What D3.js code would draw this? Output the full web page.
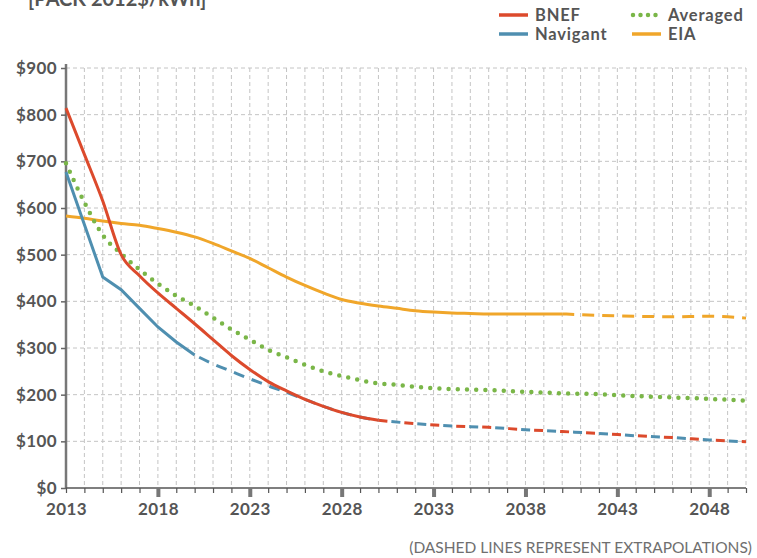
<!DOCTYPE html>
<html>
<head>
<meta charset="utf-8">
<script src="https://cdn.jsdelivr.net/npm/d3@7"></script>
<style>
  html, body { margin: 0; padding: 0; background: #fff; }
  svg { display: block; font-family: Lato, "Open Sans", sans-serif; }
</style>
</head>
<body>
<div id="chart"></div>
<script>
// Battery pack cost outlook, $/kWh by year
const years = d3.range(2013, 2051);
const yTicks = [0, 100, 200, 300, 400, 500, 600, 700, 800, 900];
const xLabelYears = [2013, 2018, 2023, 2028, 2033, 2038, 2043, 2048];

// BNEF: published projection, then extrapolated
const bnefYears = [2013, 2014, 2015, 2016, 2017, 2018, 2019, 2020, 2021, 2022, 2023, 2024, 2025, 2026, 2027, 2028, 2029, 2030];
const bnefValues = [814, 715, 615, 500, 455, 418, 385, 352, 318, 284, 254, 228, 208, 190, 175, 162, 152, 145];
const bnefExtYears = [2030, 2032, 2034, 2036, 2038, 2040, 2042, 2044, 2046, 2048, 2050];
const bnefExtValues = [145, 138, 133, 130, 125, 121, 117, 112, 108, 103, 99];

// Navigant: published projection, then extrapolated (joins the BNEF extrapolation from 2030)
const navYears = [2013, 2015, 2016, 2017, 2018, 2019, 2020];
const navValues = [677, 452, 425, 385, 345, 313, 285];
const navExtYears = [2020, 2021, 2022, 2023, 2024, 2025, 2026, 2027, 2028, 2029, 2030];
const navExtValues = [285, 266, 250, 234, 219, 205, 190, 175, 162, 152, 145];
const navLateYears = [2030, 2032, 2034, 2036, 2038, 2040, 2042, 2044, 2046, 2048, 2050];
const navLateValues = [145, 138, 133, 130, 125, 121, 117, 112, 108, 103, 99];

// EIA: published projection, then extrapolated
const eiaYears = [2013, 2014, 2015, 2016, 2017, 2018, 2019, 2020, 2021, 2022, 2023, 2024, 2025, 2026, 2027, 2028, 2029, 2030, 2031, 2032, 2033, 2034, 2035, 2036, 2038, 2040];
const eiaValues = [583, 578, 572, 567, 563, 556, 548, 538, 524, 508, 492, 472, 452, 434, 418, 404, 396, 390, 385, 380, 377, 375, 374, 373, 373, 373];
const eiaExtYears = [2040, 2042, 2044, 2046, 2048, 2050];
const eiaExtValues = [373, 370, 368, 367, 368, 364];

// Average of the sources
const avgYears = [2013, 2014, 2015, 2016, 2017, 2018, 2019, 2020, 2021, 2022, 2023, 2024, 2025, 2026, 2027, 2028, 2029, 2030, 2031, 2032, 2034, 2036, 2038, 2040, 2042, 2044, 2046, 2048, 2050];
const avgValues = [696, 612, 542, 502, 468, 438, 412, 390, 365, 340, 318, 296, 280, 264, 250, 240, 231, 224, 221, 217, 212, 210, 206, 203, 201, 197, 194, 191, 187];

const legendItems = [
  { name: "BNEF", color: "#dc4a2c", kind: "solid", col: 0, row: 0 },
  { name: "Navigant", color: "#4f8fb0", kind: "solid", col: 0, row: 1 },
  { name: "Averaged", color: "#7ab648", kind: "dot", col: 1, row: 0 },
  { name: "EIA", color: "#f0a62a", kind: "solid", col: 1, row: 1 }
];

const W = 757, H = 558;
const margin = { top: 68, right: 11, bottom: 70, left: 66 };
const textColor = "#555";

const svg = d3.select("#chart").append("svg").attr("width", W).attr("height", H);

const x = d3.scaleLinear().domain([2013, 2050]).range([margin.left, W - margin.right]);
const y = d3.scaleLinear().domain([0, 900]).range([H - margin.bottom, margin.top]);

// Unit label, clipped at the top edge
svg.append("text")
  .attr("x", 28).attr("y", 6)
  .attr("font-size", 20).attr("font-weight", 700).attr("fill", textColor)
  .text("[PACK 2012$/kWh]");

// Grid
const grid = svg.append("g").attr("stroke", "#c4c4c4").attr("stroke-width", 1).attr("stroke-dasharray", "4,3");
grid.selectAll("line.h").data(yTicks.filter(d => d > 0)).join("line")
  .attr("x1", x(2013)).attr("x2", x(2050))
  .attr("y1", d => y(d)).attr("y2", d => y(d));
grid.selectAll("line.v").data(years.filter(d => d > 2013)).join("line")
  .attr("x1", d => x(d)).attr("x2", d => x(d))
  .attr("y1", y(900)).attr("y2", y(0));

// Y axis
const yAxis = svg.append("g").attr("transform", `translate(${x(2013)},0)`)
  .call(d3.axisLeft(y).tickValues(yTicks).tickFormat(d => "$" + d).tickSize(5).tickPadding(4));
yAxis.select(".domain").attr("stroke", "#777").attr("stroke-width", 2.5)
  .attr("d", `M0,${y(900) - 4}V${y(0)}`);
yAxis.selectAll(".tick line").attr("stroke", "#666").attr("stroke-width", 1.5);
yAxis.selectAll(".tick text").attr("font-size", 17).attr("font-weight", 700).attr("fill", textColor)
  .attr("font-family", "Lato, sans-serif").attr("letter-spacing", 0.4);

// X axis
const xAxis = svg.append("g").attr("transform", `translate(0,${y(0)})`)
  .call(d3.axisBottom(x).tickValues(years).tickFormat(d => xLabelYears.includes(d) ? d : "").tickSize(5).tickPadding(8));
xAxis.select(".domain").attr("stroke", "#555").attr("stroke-width", 1.5).attr("d", `M${x(2013)},0H${x(2050)}`);
xAxis.selectAll(".tick line").attr("stroke", "#555").attr("stroke-width", 1.2);
xAxis.selectAll(".tick").filter(d => xLabelYears.includes(d) && d !== 2013).select("line")
  .attr("stroke-width", 4).attr("y2", 9).attr("stroke", "#777");
xAxis.selectAll(".tick text").attr("font-size", 17).attr("font-weight", 700).attr("fill", textColor)
  .attr("font-family", "Lato, sans-serif").attr("dy", "0.85em").attr("letter-spacing", 0.4);

// Lines
const smooth = d3.line().x(d => x(d[0])).y(d => y(d[1])).curve(d3.curveMonotoneX);
const straight = d3.line().x(d => x(d[0])).y(d => y(d[1])).curve(d3.curveLinear);
const zip = (a, b) => a.map((v, i) => [v, b[i]]);
const plot = svg.append("g").attr("fill", "none").attr("stroke-linecap", "butt");

plot.append("path").datum(zip(eiaYears, eiaValues)).attr("d", smooth)
  .attr("stroke", "#f0a62a").attr("stroke-width", 3);
plot.append("path").datum(zip(eiaExtYears, eiaExtValues)).attr("d", smooth)
  .attr("stroke", "#f0a62a").attr("stroke-width", 3).attr("stroke-dasharray", "12,8");

plot.append("path").datum(zip(avgYears, avgValues)).attr("d", smooth)
  .attr("stroke", "#7ab648").attr("stroke-width", 4.5).attr("stroke-linecap", "round")
  .attr("stroke-dasharray", "0,9.2");

plot.append("path").datum(zip(navExtYears, navExtValues)).attr("d", smooth)
  .attr("stroke", "#4f8fb0").attr("stroke-width", 3).attr("stroke-dasharray", "11,8").attr("stroke-dashoffset", -5);

// From 2030 the two extrapolations coincide: alternate red and blue dashes
plot.append("path").datum(zip(navLateYears, navLateValues)).attr("d", smooth)
  .attr("stroke", "#4f8fb0").attr("stroke-width", 3).attr("stroke-dasharray", "9,17").attr("stroke-dashoffset", -13);
plot.append("path").datum(zip(bnefExtYears, bnefExtValues)).attr("d", smooth)
  .attr("stroke", "#dc4a2c").attr("stroke-width", 3).attr("stroke-dasharray", "9,17");

plot.append("path").datum(zip(navYears, navValues)).attr("d", straight)
  .attr("stroke", "#4f8fb0").attr("stroke-width", 3);
plot.append("path").datum(zip(bnefYears, bnefValues)).attr("d", smooth)
  .attr("stroke", "#dc4a2c").attr("stroke-width", 3);

// Legend
const legend = svg.append("g");
legendItems.forEach(it => {
  const lx = it.col === 0 ? 499 : 632;
  const ly = it.row === 0 ? 15 : 34;
  const sw = legend.append("line").attr("x1", lx).attr("x2", lx + 29).attr("y1", ly).attr("y2", ly)
    .attr("stroke", it.color).attr("stroke-width", 3.5);
  if (it.kind === "dot") sw.attr("stroke-width", 4.5).attr("stroke-linecap", "round").attr("stroke-dasharray", "0,7.5").attr("x1", lx + 1);
  legend.append("text").attr("x", lx + 36).attr("y", ly).attr("dy", "0.35em")
    .attr("font-size", 16.5).attr("font-weight", 700).attr("fill", textColor)
    .attr("letter-spacing", 0.8).text(it.name);
});

// Footnote
svg.append("text").attr("x", 752).attr("y", 553).attr("text-anchor", "end")
  .attr("font-size", 15.5).attr("fill", "#6f6f6f").text("(DASHED LINES REPRESENT EXTRAPOLATIONS)");
</script>
</body>
</html>
